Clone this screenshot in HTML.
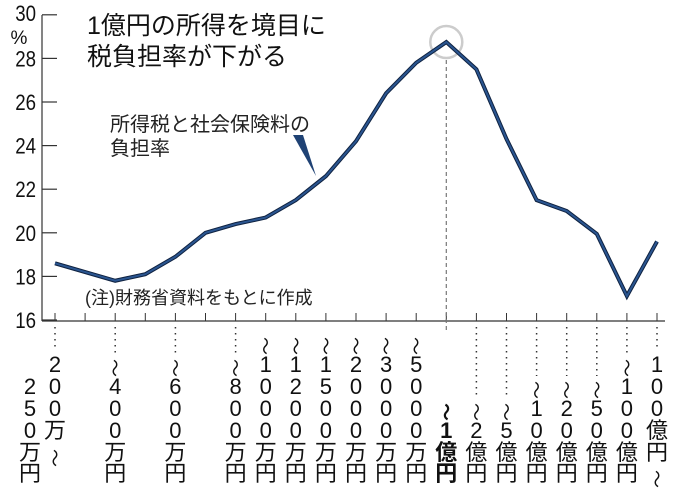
<!DOCTYPE html>
<html><head><meta charset="utf-8"><style>
body{margin:0;background:#fff}
svg{display:block;font-family:"Liberation Sans","Noto Sans CJK JP",sans-serif}
</style></head><body>
<svg id="chart" width="680" height="495" viewBox="0 0 680 495">
<g id="yaxis"></g>
<g id="xaxis"></g>
<text x="87" y="34" font-size="25" fill="#111">1億円の所得を境目に</text>
<text x="87" y="65" font-size="25" fill="#111">税負担率が下がる</text>
<text x="110" y="131" font-size="20" fill="#222">所得税と社会保険料の</text>
<text x="110" y="155" font-size="20" fill="#222">負担率</text>
<polygon points="293,135 303,135 316,176" fill="#1f4274"/>
<text x="85" y="304" font-size="18" fill="#222">(注)財務省資料をもとに作成</text>
<g id="marks"></g>
<g id="labels"></g>
</svg>
<script>
const categories=["200万〜250万円","","〜400万円","","〜600万円","","〜800万円","〜1000万円","〜1200万円","〜1500万円","〜2000万円","〜3000万円","〜5000万円","〜1億円","〜2億円","〜5億円","〜10億円","〜20億円","〜50億円","〜100億円","100億円〜"];
const values=[18.6,null,17.8,18.1,18.9,20.0,20.4,20.7,21.5,22.6,24.2,26.4,27.8,28.75,27.5,24.3,21.5,21.0,19.95,17.1,19.6];
const yTicks=[16,18,20,22,24,26,28,30];
const NS="http://www.w3.org/2000/svg";
const x=i=>55+30.1*i, y=v=>320-21.8*(v-16);
function mk(tag,attrs,parent){const e=document.createElementNS(NS,tag);for(const k in attrs)e.setAttribute(k,attrs[k]);parent.appendChild(e);return e;}
const ya=document.getElementById('yaxis'),xa=document.getElementById('xaxis'),mg=document.getElementById('marks'),lg=document.getElementById('labels');
mk('line',{x1:42,y1:15,x2:42,y2:321,stroke:'#333','stroke-width':1.2},ya);
yTicks.forEach(t=>{
 const l=mk('line',{x1:42,y1:y(t),x2:57,y2:y(t),stroke:'#333','stroke-width':1.2},ya);
 
 
 const tx=mk('text',{x:36,y:y(t)+(t==30?6:8),'font-size':22,'text-anchor':'end',fill:'#111'},ya);
 
 
 tx.setAttribute('transform','translate('+(36*0.15)+',0) scale(0.85,1)');
 tx.setAttribute('x',36/0.85*1-36*0.15/0.85);
 tx.textContent=t;
});
const pc=mk('text',{x:19,y:44,'font-size':19,'text-anchor':'middle',fill:'#111'},ya);pc.textContent='%';

mk('line',{x1:42,y1:321,x2:665,y2:321,stroke:'#333','stroke-width':1.2},xa);
categories.forEach((c,i)=>{
 const t=mk('line',{x1:x(i),y1:313,x2:x(i),y2:321,stroke:'#333','stroke-width':1},xa);
 
 
});
const pk=13;
mk('line',{x1:x(pk),y1:y(values[pk])+4,x2:x(pk),y2:330,stroke:'#777','stroke-width':1.2,'stroke-dasharray':'4,3'},mg);
const circ=mk('circle',{cx:x(pk),cy:y(values[pk]),r:16,fill:'#fff',stroke:'#ccc','stroke-width':2.5},mg);


let d='';values.forEach((v,i)=>{if(v==null)return;d+=(d?'L':'M')+x(i)+','+y(v);});
mk('path',{d:d,fill:'none',stroke:'#0f2240','stroke-width':4,'stroke-linejoin':'miter'},mg);
const ln=mk('path',{d:d,fill:'none',stroke:'#2a5590','stroke-width':2,'stroke-linejoin':'miter'},mg);


const rows=[473,452,430,408,386,364,342,320];
function column(chars,cx,bottomIdx,bold,g){
 let r=bottomIdx;let top=500;
 for(let k=chars.length-1;k>=0;k--){
  const ch=chars[k];let yy=rows[r];
  if(ch==='〜'){yy+= (k===0?4:6);}
  const t=mk('text',{x:cx,y:yy+8,'font-size':22,'text-anchor':'middle',fill:'#111'},g);
  if(bold)t.setAttribute('font-weight','bold');
  if(ch==='〜'){t.setAttribute('transform','rotate(90 '+cx+' '+(yy)+')');t.setAttribute('y',yy+7);t.setAttribute('font-size',18);}
  t.textContent=ch;top=Math.min(top,yy-12);r++;
 }
 return top;
}
categories.forEach((c,i)=>{
 if(!c)return;
 const g=mk('g',{},lg);
 
 
 let top;
 if(i===0){column('250万円',30,0,false,g);top=column('200万〜',x(0),1,false,g);}
 else top=column(c,x(i),0,i===pk,g);
 if(i!==pk&&top>335)mk('line',{x1:x(i),y1:327,x2:x(i),y2:top-2,stroke:'#333','stroke-width':1.5,'stroke-dasharray':'1.5,4.5'},g);
});
</script>
</body></html>
